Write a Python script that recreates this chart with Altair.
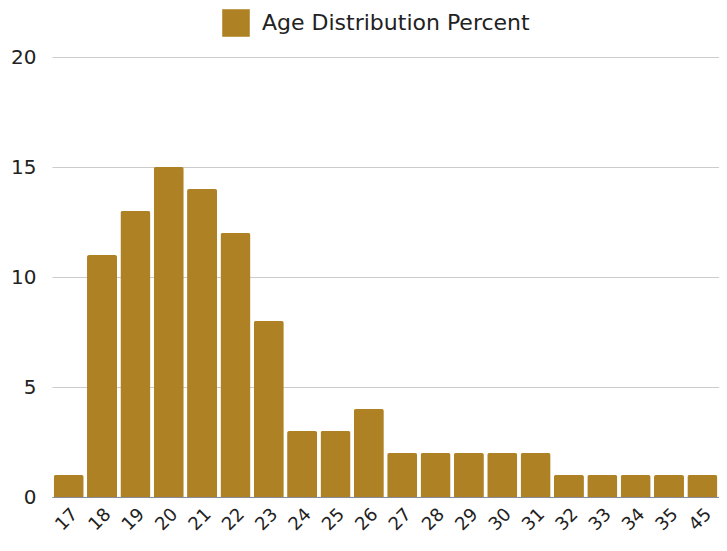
import altair as alt
import pandas as pd

ages = ["17", "18", "19", "20", "21", "22", "23", "24", "25", "26",
        "27", "28", "29", "30", "31", "32", "33", "34", "35", "45"]
percent = [1, 11, 13, 15, 14, 12, 8, 3, 3, 4,
           2, 2, 2, 2, 2, 1, 1, 1, 1, 1]
series_name = "Age Distribution Percent"
y_ticks = [0, 5, 10, 15, 20]

df = pd.DataFrame({"age": ages, "percent": percent, "series": [series_name] * len(ages)})

FONT = "DejaVu Sans"

chart = alt.Chart(df).mark_bar(
    cornerRadiusTopLeft=2, cornerRadiusTopRight=2
).encode(
    x=alt.X("age:N", sort=ages, title=None,
            scale=alt.Scale(paddingInner=0.1, paddingOuter=0.05),
            axis=alt.Axis(labelAngle=-45, labelFontSize=18, labelColor="#222222",
                          labelFont=FONT, ticks=False, domain=True, domainColor="#8a8a9a",
                          labelPadding=8, grid=False)),
    y=alt.Y("percent:Q", title=None,
            scale=alt.Scale(domain=[0, 20], nice=False),
            axis=alt.Axis(values=y_ticks, labelFontSize=20, labelColor="#222222",
                          labelFont=FONT, ticks=False, domain=False, labelPadding=16,
                          gridColor="#cccccc", gridWidth=1)),
    color=alt.Color("series:N", scale=alt.Scale(range=["#AE8224"]),
                    legend=alt.Legend(title=None, orient="none", legendX=170, legendY=-48,
                                      symbolType="square", symbolSize=760,
                                      symbolStrokeWidth=0, labelFontSize=22,
                                      labelFont=FONT, labelColor="#222222",
                                      labelOffset=12, labelLimit=0)),
).properties(
    width=667, height=440,
    autosize=alt.AutoSizeParams(type="none"),
    padding={"left": 44, "top": 49, "right": 0, "bottom": 46},
).configure_view(stroke=None)

chart.save("out.html", embed_options={"renderer": "svg", "actions": False})
